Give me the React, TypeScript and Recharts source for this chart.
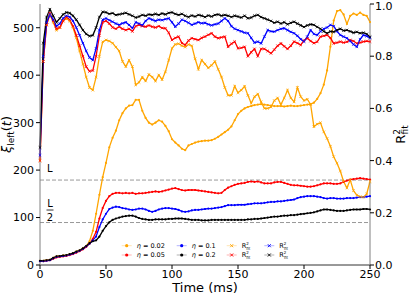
import { ComposedChart, Line, XAxis, YAxis, ReferenceLine } from "recharts";

// time grid (ms)
const times = Array.from({ length: 101 }, (_, i) => i * 2.5);

const L_FULL = 179;
const L_HALF = 89.5;

// xi_left(t) for each eta (left axis)
const xiEta002 = [
  9, 9, 10, 11, 15, 18, 19, 20, 21, 23, 25, 28, 31, 35, 40, 50, 72, 108, 148, 185,
  215, 248, 268, 283, 305, 320, 330, 336, 337, 348, 348, 325, 310, 300, 296, 300, 305, 302, 293, 282,
  265, 258, 252, 245, 242, 252, 255, 258, 260, 261, 262, 262, 263, 266, 270, 275, 280, 285, 292, 305,
  318, 325, 330, 333, 335, 337, 338, 339, 338, 337, 336, 335, 335, 335, 334, 335, 336, 335, 335, 336,
  337, 338, 339, 342, 350, 362, 380, 410, 460, 515, 535, 537, 528, 508, 525, 530, 527, 532, 527, 525,
  512,
];
const xiEta005 = [
  8, 8, 9, 10, 13, 16, 17, 18, 19, 21, 23, 26, 29, 33, 38, 45, 55, 70, 98, 120,
  135, 145, 150, 152, 152, 151, 152, 151, 152, 150, 151, 151, 152, 153, 154, 155, 154, 155, 157, 159,
  161, 162, 160, 158, 157, 158, 158, 158, 157, 156, 155, 154, 153, 152, 151, 152, 158, 163, 166, 169,
  171, 172, 173, 175, 176, 175, 176, 174, 172, 172, 172, 174, 175, 175, 173, 171, 169, 168, 168, 167,
  166, 165, 165, 166, 168, 170, 172, 172, 172, 171, 171, 172, 175, 178, 180, 181, 182, 183, 182, 181,
  180,
];
const xiEta01 = [
  8, 8, 9, 10, 14, 17, 18, 19, 20, 22, 24, 27, 30, 34, 39, 45, 52, 60, 80, 96,
  108, 118, 121, 123, 122, 120, 119, 117, 116, 117, 119, 119, 117, 114, 112, 114, 117, 119, 120, 120,
  119, 118, 116, 113, 112, 113, 115, 116, 116, 117, 118, 119, 119, 120, 121, 122, 124, 126, 126, 126,
  127, 127, 127, 128, 129, 130, 130, 130, 131, 132, 133, 133, 134, 134, 135, 136, 137, 138, 141, 143,
  144, 145, 145, 145, 144, 143, 141, 140, 141, 141, 140, 140, 140, 141, 141, 141, 142, 143, 143, 144,
  145,
];
const xiEta02 = [
  9, 9, 10, 11, 15, 18, 19, 20, 21, 23, 25, 28, 31, 35, 40, 46, 50, 52, 60, 72,
  82, 90, 95, 98, 100, 102, 103, 104, 104, 102, 99, 97, 96, 95, 95, 96, 96, 96, 96, 97,
  97, 98, 98, 98, 97, 96, 95, 95, 95, 94, 94, 94, 95, 95, 95, 95, 95, 95, 95, 95,
  95, 95, 95, 96, 96, 97, 97, 98, 99, 100, 101, 102, 102, 103, 104, 104, 105, 105, 106, 107,
  108, 109, 110, 111, 113, 115, 117, 117, 116, 115, 114, 114, 114, 115, 116, 117, 117, 117, 118, 118,
  117,
];

// R^2 of the fit for each eta (right axis)
const r2Eta002 = [
  0.4, 0.78, 0.92, 0.96, 0.93, 0.9, 0.91, 0.935, 0.945, 0.935, 0.91, 0.87, 0.82, 0.77, 0.72, 0.68, 0.67, 0.72, 0.8, 0.855,
  0.862, 0.858, 0.85, 0.835, 0.82, 0.78, 0.76, 0.785, 0.76, 0.69, 0.7, 0.72, 0.705, 0.73, 0.72, 0.705, 0.728, 0.71, 0.74, 0.785,
  0.83, 0.845, 0.848, 0.84, 0.835, 0.845, 0.84, 0.79, 0.75, 0.785, 0.77, 0.755, 0.765, 0.78, 0.75, 0.72, 0.68, 0.65, 0.65, 0.685,
  0.66, 0.67, 0.685, 0.65, 0.62, 0.645, 0.655, 0.625, 0.6, 0.6, 0.605, 0.63, 0.64, 0.615, 0.64, 0.67, 0.64, 0.625, 0.68, 0.645,
  0.63, 0.635, 0.615, 0.53, 0.54, 0.545, 0.51, 0.485, 0.455, 0.415, 0.39, 0.36, 0.32, 0.295, 0.326, 0.285, 0.268, 0.262, 0.26, 0.272,
  0.32,
];
const r2Eta005 = [
  0.4, 0.78, 0.92, 0.964, 0.935, 0.905, 0.91, 0.935, 0.95, 0.94, 0.915, 0.88, 0.84, 0.8, 0.76, 0.742, 0.745, 0.8, 0.88, 0.93,
  0.935, 0.925, 0.91, 0.905, 0.913, 0.905, 0.9, 0.905, 0.895, 0.915, 0.92, 0.915, 0.913, 0.918, 0.913, 0.91, 0.915, 0.908, 0.907, 0.89,
  0.862, 0.87, 0.875, 0.85, 0.843, 0.86, 0.869, 0.865, 0.862, 0.87, 0.875, 0.882, 0.888, 0.875, 0.869, 0.872, 0.875, 0.836, 0.848, 0.856,
  0.83, 0.832, 0.836, 0.8, 0.815, 0.828, 0.8, 0.828, 0.828, 0.82, 0.811, 0.825, 0.84, 0.849, 0.838, 0.828, 0.84, 0.856, 0.85, 0.843,
  0.86, 0.869, 0.858, 0.85, 0.855, 0.875, 0.878, 0.881, 0.87, 0.849, 0.852, 0.856, 0.852, 0.855, 0.862, 0.858, 0.849, 0.852, 0.856, 0.858,
  0.856,
];
const r2Eta01 = [
  0.42, 0.8, 0.93, 0.96, 0.94, 0.915, 0.925, 0.945, 0.955, 0.95, 0.935, 0.91, 0.88, 0.85, 0.82, 0.795, 0.785, 0.83, 0.9, 0.94,
  0.945, 0.938, 0.932, 0.925, 0.92, 0.926, 0.93, 0.92, 0.907, 0.93, 0.925, 0.918, 0.935, 0.945, 0.94, 0.935, 0.94, 0.938, 0.942, 0.945,
  0.93, 0.913, 0.925, 0.94, 0.935, 0.928, 0.92, 0.925, 0.93, 0.926, 0.928, 0.922, 0.918, 0.922, 0.925, 0.935, 0.945, 0.935, 0.915, 0.905,
  0.9, 0.895, 0.89, 0.888, 0.87, 0.852, 0.856, 0.849, 0.875, 0.9, 0.895, 0.894, 0.9, 0.905, 0.907, 0.9, 0.893, 0.888, 0.878, 0.865,
  0.856, 0.875, 0.9, 0.885, 0.881, 0.895, 0.905, 0.91, 0.92, 0.915, 0.895, 0.881, 0.875, 0.869, 0.858, 0.845, 0.836, 0.865, 0.881, 0.877,
  0.87,
];
const r2Eta02 = [
  0.45, 0.85, 0.95, 0.98, 0.955, 0.93, 0.945, 0.96, 0.968, 0.965, 0.955, 0.94, 0.92, 0.9, 0.885, 0.877, 0.88, 0.91, 0.95, 0.97,
  0.968, 0.962, 0.965, 0.958, 0.96, 0.963, 0.966, 0.96, 0.955, 0.948, 0.952, 0.958, 0.955, 0.96, 0.958, 0.962, 0.958, 0.964, 0.96, 0.966,
  0.968, 0.962, 0.958, 0.962, 0.955, 0.95, 0.956, 0.952, 0.958, 0.955, 0.95, 0.956, 0.952, 0.958, 0.96, 0.955, 0.958, 0.955, 0.95, 0.955,
  0.952, 0.948, 0.955, 0.945, 0.948, 0.955, 0.958, 0.95, 0.945, 0.94, 0.935, 0.928, 0.932, 0.925, 0.93, 0.922, 0.928, 0.932, 0.925, 0.918,
  0.912, 0.918, 0.922, 0.92, 0.912, 0.905, 0.895, 0.888, 0.895, 0.893, 0.9, 0.905, 0.898, 0.9, 0.895, 0.89, 0.893, 0.888, 0.89, 0.885,
  0.874,
];

const xTicks = [0, 50, 100, 150, 200, 250];
const leftTicks = [0, 100, 200, 300, 400, 500];
const rightTicks = [0, 0.2, 0.4, 0.6, 0.8, 1.0];

const etaLabels = ["0.02", "0.05", "0.1", "0.2"];
const colors = ["#ffa500", "#ff0000", "#0000ff", "#000000"];

const xiSeries = [xiEta002, xiEta005, xiEta01, xiEta02];
const r2Series = [r2Eta002, r2Eta005, r2Eta01, r2Eta02];

const data = times.map((t, i) => {
  const row: Record<string, number> = { t };
  xiSeries.forEach((s, k) => (row[`xi${k}`] = s[i]));
  r2Series.forEach((s, k) => (row[`r2${k}`] = s[i]));
  return row;
});

const FONT = "DejaVu Sans, sans-serif";

function CrossDot(props: any) {
  const { cx, cy, stroke } = props;
  if (cx == null || cy == null) return null;
  const d = 1.3;
  return (
    <path
      d={`M${cx - d},${cy - d}L${cx + d},${cy + d}M${cx - d},${cy + d}L${cx + d},${cy - d}`}
      stroke={stroke}
      strokeWidth={0.8}
      fill="none"
    />
  );
}

function LeftTitle(props: any) {
  const { viewBox } = props;
  const x = viewBox.x + 11;
  const y = viewBox.y + viewBox.height / 2;
  return (
    <text x={x} y={y} transform={`rotate(-90, ${x}, ${y})`} textAnchor="middle" fontSize={13} fontFamily={FONT} fill="#000">
      <tspan fontStyle="italic">ξ</tspan>
      <tspan fontSize={9} dy={3}>left</tspan>
      <tspan dy={-3}>(</tspan>
      <tspan fontStyle="italic">t</tspan>
      <tspan>)</tspan>
    </text>
  );
}

function RightTitle(props: any) {
  const { viewBox } = props;
  const x = viewBox.x + 35;
  const y = viewBox.y + viewBox.height / 2;
  return (
    <text x={x} y={y} transform={`rotate(-90, ${x}, ${y})`} textAnchor="middle" fontSize={13} fontFamily={FONT} fill="#000">
      <tspan>R</tspan>
      <tspan fontSize={9} dy={-5}>2</tspan>
      <tspan fontSize={9} dx={-5.5} dy={8}>fit</tspan>
    </text>
  );
}

function BottomTitle(props: any) {
  const { viewBox } = props;
  return (
    <text x={viewBox.x + viewBox.width / 2} y={viewBox.y + 26.5} textAnchor="middle" fontSize={13} fontFamily={FONT} fill="#000">
      Time (ms)
    </text>
  );
}

function FullLabel(props: any) {
  const { viewBox } = props;
  return (
    <text x={viewBox.x + 7} y={viewBox.y - 8} fontSize={10} fontFamily={FONT} fill="#000">
      L
    </text>
  );
}

function HalfLabel(props: any) {
  const { viewBox } = props;
  const cx = viewBox.x + 10;
  const y = viewBox.y;
  return (
    <g fontSize={10} fontFamily={FONT} fill="#000">
      <text x={cx} y={y - 15.5} textAnchor="middle">L</text>
      <line x1={cx - 3.5} x2={cx + 3.5} y1={y - 12.5} y2={y - 12.5} stroke="#000" strokeWidth={0.8} />
      <text x={cx} y={y - 1.5} textAnchor="middle">2</text>
    </g>
  );
}

function LegendOverlay() {
  const colX = [126.7, 181.7, 231.7, 269.3];
  const rowY = [245.7, 255];
  const items = etaLabels.map((label, k) => ({ label, color: colors[k], row: k % 2, col: Math.floor(k / 2) }));
  return (
    <svg width={409} height={294} style={{ position: "absolute", left: 0, top: 0, pointerEvents: "none" }}>
      <g fontFamily={FONT} fontSize={6.5} fill="#000">
        {items.map((it) => {
          const x = colX[it.col];
          const y = rowY[it.row];
          return (
            <g key={`xi-${it.label}`}>
              <line x1={x - 5} x2={x + 5} y1={y} y2={y} stroke={it.color} strokeOpacity={0.3} strokeWidth={1} />
              <circle cx={x} cy={y} r={1.6} fill={it.color} />
              <text x={x + 10} y={y + 2.3}>
                <tspan fontStyle="italic">η</tspan> = {it.label}
              </text>
            </g>
          );
        })}
        {items.map((it) => {
          const x = colX[it.col + 2];
          const y = rowY[it.row];
          return (
            <g key={`r2-${it.label}`}>
              <line x1={x - 5} x2={x + 5} y1={y} y2={y} stroke={it.color} strokeOpacity={0.3} strokeWidth={1} />
              <path d={`M${x - 1.5},${y - 1.5}L${x + 1.5},${y + 1.5}M${x - 1.5},${y + 1.5}L${x + 1.5},${y - 1.5}`} stroke={it.color} strokeWidth={0.9} />
              <text x={x + 10} y={y + 2.3}>
                R<tspan fontSize={4} dy={-3}>2</tspan>
                <tspan fontSize={4} dx={-2.5} dy={4.5}>fit</tspan>
              </text>
            </g>
          );
        })}
      </g>
    </svg>
  );
}

const tickStyle = { fontSize: 11, fill: "#000", fontFamily: FONT };

export default function App() {
  return (
    <div style={{ position: "relative", width: 409, height: 294, background: "#fff" }}>
      <ComposedChart width={409} height={294} data={data} margin={{ top: 4, right: 0, bottom: 0, left: 0 }}>
        <XAxis
          dataKey="t"
          type="number"
          domain={[0, 250]}
          ticks={xTicks}
          height={29}
          tick={tickStyle}
          tickSize={4}
          tickMargin={1}
          stroke="#333"
          tickLine={{ stroke: "#000" }}
          label={<BottomTitle />}
        />
        <XAxis xAxisId="top" dataKey="t" type="number" domain={[0, 250]} orientation="top" height={0} tick={false} tickLine={false} stroke="#808080" />
        <YAxis
          yAxisId="left"
          domain={[0, 550]}
          ticks={leftTicks}
          width={40}
          tick={tickStyle}
          tickSize={4}
          tickMargin={2}
          stroke="#808080"
          tickLine={{ stroke: "#000" }}
          label={<LeftTitle />}
        />
        <YAxis
          yAxisId="right"
          orientation="right"
          domain={[0, 1]}
          ticks={rightTicks}
          tickFormatter={(v: number) => v.toFixed(1)}
          width={39}
          tick={tickStyle}
          tickSize={4}
          tickMargin={1}
          stroke="#808080"
          tickLine={{ stroke: "#000" }}
          label={<RightTitle />}
        />
        <ReferenceLine yAxisId="left" y={L_FULL} stroke="#999" strokeDasharray="4 2" strokeWidth={1} label={<FullLabel />} />
        <ReferenceLine yAxisId="left" y={L_HALF} stroke="#999" strokeDasharray="4 2" strokeWidth={1} label={<HalfLabel />} />
        {xiSeries.map((_, k) => (
          <Line
            key={`xi${k}`}
            yAxisId="left"
            dataKey={`xi${k}`}
            type="linear"
            stroke={colors[k]}
            strokeWidth={1.3}
            dot={{ r: 1.1, fill: colors[k], stroke: "none" }}
            activeDot={false}
            isAnimationActive={false}
          />
        ))}
        {r2Series.map((_, k) => (
          <Line
            key={`r2${k}`}
            yAxisId="right"
            dataKey={`r2${k}`}
            type="linear"
            stroke={colors[k]}
            strokeWidth={1.3}
            dot={<CrossDot />}
            activeDot={false}
            isAnimationActive={false}
          />
        ))}
      </ComposedChart>
      <LegendOverlay />
    </div>
  );
}

const style = new CSSStyleSheet();
style.replaceSync(`
body { margin: 0; }
`);

if (typeof document !== "undefined" && !document.adoptedStyleSheets.includes(style)) {
  document.adoptedStyleSheets = [...document.adoptedStyleSheets, style];
}
